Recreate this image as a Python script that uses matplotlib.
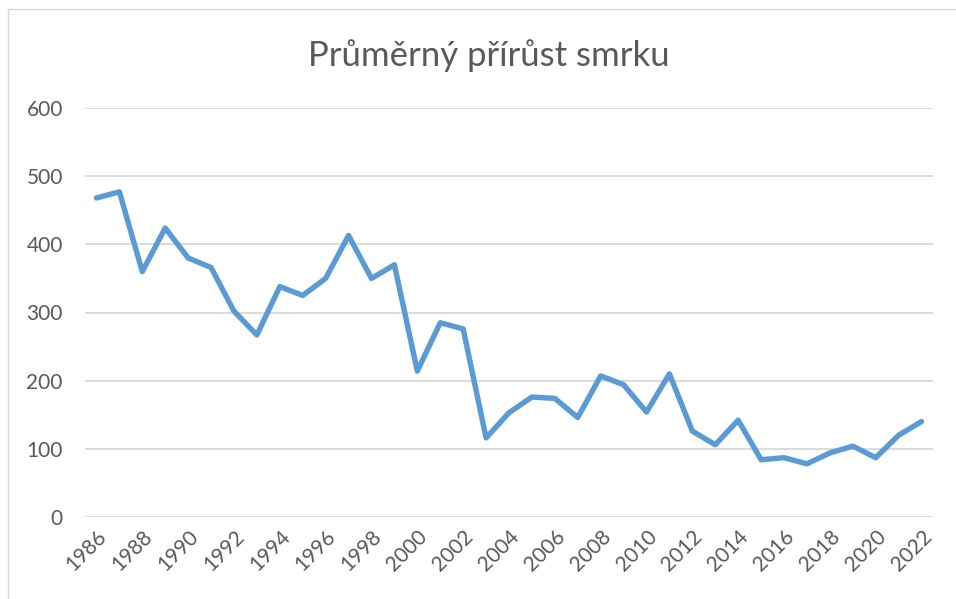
import matplotlib.pyplot as plt
from matplotlib.lines import Line2D

years = list(range(1986, 2023))
values = [468, 477, 360, 424, 380, 366, 302, 267, 338, 325,
          350, 413, 350, 370, 214, 285, 276, 116, 153, 176,
          174, 146, 207, 194, 154, 210, 126, 106, 142, 84,
          87, 78, 94, 104, 87, 120, 140]
tick_years = years[::2]
y_ticks = [0, 100, 200, 300, 400, 500, 600]
title = "Průměrný přírůst smrku"

text_color = "#595959"
line_color = "#5B9BD5"
grid_color = "#D9D9D9"

plt.rcParams["font.family"] = ["Lato", "DejaVu Sans"]

fig = plt.figure(figsize=(9.56, 5.99), dpi=100)
ax = fig.add_axes([85 / 956, 82 / 599, 848 / 956, 409 / 599])

ax.plot(years, values, color=line_color, linewidth=3.9,
        solid_joinstyle="round", solid_capstyle="round", zorder=3)

ax.set_xlim(1985.5, 2022.5)
ax.set_ylim(0, 600)
ax.set_yticks(y_ticks)
ax.set_xticks(tick_years)
ax.set_xticklabels([str(y) for y in tick_years], rotation=45,
                   ha="right", rotation_mode="anchor")
ax.tick_params(axis="both", length=0, labelsize=15, colors=text_color)
ax.tick_params(axis="y", pad=16)
ax.tick_params(axis="x", pad=7)

ax.grid(axis="y", color=grid_color, linewidth=1.3)
ax.set_axisbelow(True)
for s in ax.spines.values():
    s.set_visible(False)

fig.text(489 / 956, 1 - 56 / 599, title, ha="center", va="center",
         fontsize=25, color=text_color)

# chart frame, only the left and top edges show
fig.lines.append(Line2D([8 / 956, 8 / 956, 1], [0, 1 - 9 / 599, 1 - 9 / 599],
                        transform=fig.transFigure, color=grid_color,
                        linewidth=1))

fig.savefig("out.png", dpi=100)
